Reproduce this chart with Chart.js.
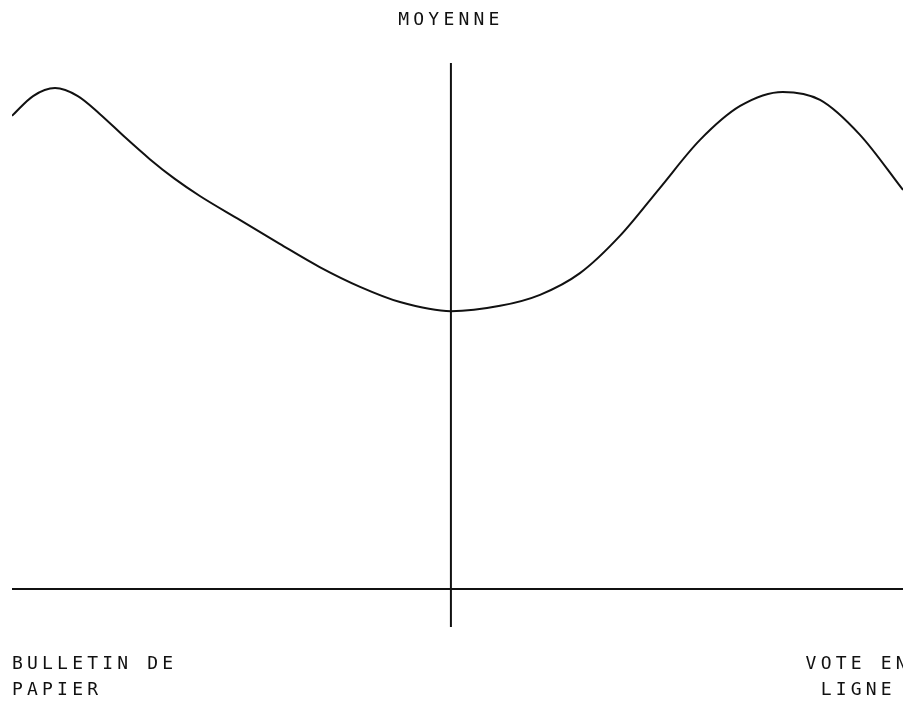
<!DOCTYPE html>
<html>
<head>
<meta charset="utf-8">
<script src="https://cdn.jsdelivr.net/npm/chart.js@4"></script>
<style>
  html, body { margin: 0; padding: 0; background: #ffffff; }
  #wrap { width: 903px; height: 701px; }
</style>
</head>
<body>
<div id="wrap"><canvas id="c" width="903" height="701"></canvas></div>
<script>
// Position along the axis (-100 = paper ballot, 0 = average, 100 = online vote)
const positions = [-100.0, -95.2, -90.2, -85.0, -80.0, -74.3, -68.6, -62.9, -57.2, -48.1, -39.0, -29.9, -20.7, -11.6, 0, 11.2, 20.3, 29.4, 38.5, 47.6, 56.7, 65.9, 75.6, 84.1, 93.2, 103.0];
// Curve height at each position
const curveValues = [124.5, 129.7, 131.8, 129.7, 125.0, 118.9, 113.1, 107.9, 103.4, 97.1, 90.8, 84.7, 79.5, 75.5, 73.1, 74.5, 77.4, 83.1, 92.9, 105.5, 118.1, 127.1, 130.8, 128.7, 119.5, 105.0];
// Labels
const topLabel = ['MOYENNE'];
const leftLabel = ['BULLETIN DE', 'PAPIER'];
const rightLabel = ['VOTE EN', 'LIGNE'];
// Axis extents
const xMin = -100, xMax = 103;
const yMin = -10, yMax = 138.4;
const averageX = 0;
const baselineY = 0;
const rightLabelCenterX = 92.8;

const FONT = '18px "DejaVu Sans Mono", monospace';
const SPACING = '4.2px';
const INK = '#111111';

const labelPlugin = {
  id: 'labels',
  afterDraw(chart) {
    const ctx = chart.ctx;
    const xs = chart.scales.x;
    ctx.save();
    ctx.font = FONT;
    ctx.letterSpacing = SPACING;
    ctx.fillStyle = INK;
    ctx.textBaseline = 'alphabetic';
    ctx.textAlign = 'center';
    ctx.fillText(topLabel[0], xs.getPixelForValue(averageX), 25);
    ctx.textAlign = 'left';
    leftLabel.forEach((t, i) => ctx.fillText(t, xs.getPixelForValue(xMin), 669 + i * 26));
    ctx.textAlign = 'center';
    rightLabel.forEach((t, i) => ctx.fillText(t, xs.getPixelForValue(rightLabelCenterX), 669 + i * 26));
    ctx.restore();
  }
};

new Chart(document.getElementById('c'), {
  type: 'line',
  data: {
    datasets: [
      {
        data: positions.map((p, i) => ({ x: p, y: curveValues[i] })),
        borderColor: INK,
        borderWidth: 2,
        pointRadius: 0,
        cubicInterpolationMode: 'monotone',
        fill: false
      },
      {
        data: [{ x: averageX, y: yMin }, { x: averageX, y: yMax }],
        borderColor: INK,
        borderWidth: 2,
        pointRadius: 0,
        tension: 0
      },
      {
        data: [{ x: xMin, y: baselineY }, { x: xMax, y: baselineY }],
        borderColor: INK,
        borderWidth: 2,
        pointRadius: 0,
        tension: 0
      }
    ]
  },
  options: {
    responsive: false,
    animation: false,
    devicePixelRatio: 1,
    layout: { padding: { left: 12, right: 0, top: 63, bottom: 74 } },
    plugins: { legend: { display: false }, tooltip: { enabled: false }, title: { display: false } },
    scales: {
      x: { type: 'linear', min: xMin, max: xMax, display: false },
      y: { type: 'linear', min: yMin, max: yMax, display: false }
    }
  },
  plugins: [labelPlugin]
});
</script>
</body>
</html>
